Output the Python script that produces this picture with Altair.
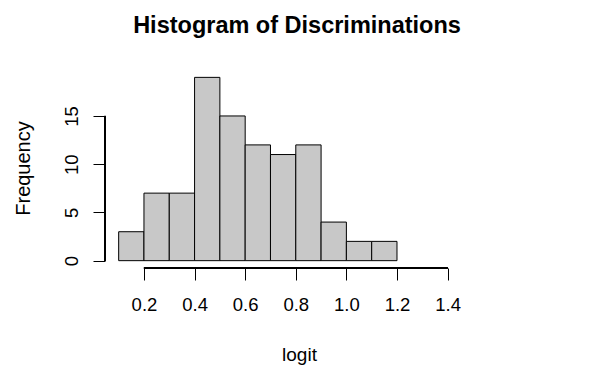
import altair as alt
import pandas as pd

bin_start = [0.1, 0.2, 0.3, 0.4, 0.5, 0.6, 0.7, 0.8, 0.9, 1.0, 1.1]
bin_end = [0.2, 0.3, 0.4, 0.5, 0.6, 0.7, 0.8, 0.9, 1.0, 1.1, 1.2]
counts = [3, 7, 7, 19, 15, 12, 11, 12, 4, 2, 2]
x_ticks = [0.2, 0.4, 0.6, 0.8, 1.0, 1.2, 1.4]
y_ticks = [0, 5, 10, 15]
title_text = "Histogram of Discriminations"

df = pd.DataFrame({"start": bin_start, "end": bin_end, "count": counts})

W, H = 355, 208
FONT = "Liberation Sans"

xscale = alt.Scale(domain=[0.046, 1.449], nice=False, zero=False)
yscale = alt.Scale(domain=[-0.76, 20.8], nice=False, zero=False)

bars = alt.Chart(df).mark_rect(fill="#c8c8c8", stroke="#000000", strokeWidth=1).encode(
    x=alt.X("start:Q", scale=xscale, axis=alt.Axis(
        values=x_ticks, domain=False, grid=False, tickSize=12, tickColor="#000000",
        tickWidth=1, labelFont=FONT, labelFontSize=18.5, labelColor="#000000",
        labelPadding=15, format=".1f", title="logit", titleFont=FONT,
        titleFontSize=19, titleFontWeight="normal", titleColor="#000000",
        titleX=194, titleY=92.5, titleAlign="center", titleBaseline="alphabetic")),
    x2="end:Q",
    y=alt.Y("count:Q", scale=yscale, axis=alt.Axis(
        values=y_ticks, domain=False, grid=False, tickSize=12, tickColor="#000000",
        tickWidth=1, labelFont=FONT, labelFontSize=18.5, labelColor="#000000",
        labelAngle=270, labelAlign="center", labelBaseline="bottom", labelPadding=12,
        title="Frequency", titleFont=FONT, titleFontSize=20,
        titleFontWeight="normal", titleColor="#000000", titleX=-76, titleY=108,
        titleAlign="center", titleBaseline="alphabetic", titleAngle=270)),
    y2=alt.datum(0),
)

xline = alt.Chart(df).mark_rule(color="#000000", strokeWidth=1).encode(
    x=alt.datum(x_ticks[0], scale=xscale),
    x2=alt.datum(x_ticks[-1]),
    y=alt.value(H),
)
yline = alt.Chart(df).mark_rule(color="#000000", strokeWidth=1).encode(
    x=alt.value(0),
    y=alt.datum(y_ticks[0], scale=yscale),
    y2=alt.datum(y_ticks[-1]),
)

title = alt.Chart(pd.DataFrame({"t": [title_text]})).mark_text(
    font=FONT, fontSize=23.5, fontWeight="bold", color="#000000",
    align="center", baseline="alphabetic",
).encode(text="t:N", x=alt.value(192), y=alt.value(-27))

chart = alt.layer(bars, xline, yline, title).properties(
    width=W, height=H,
    autosize=alt.AutoSizeParams(type="none"),
    padding={"left": 97, "top": 52, "right": 134, "bottom": 100},
).configure(background="#ffffff").configure_view(stroke=None)

chart.save("out.html", embed_options={"renderer": "svg", "actions": False})
